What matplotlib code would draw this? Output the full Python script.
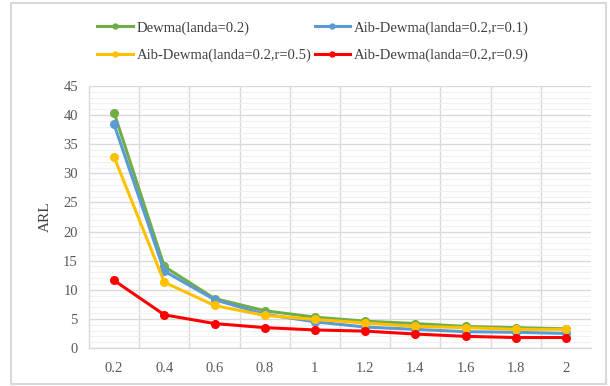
import matplotlib

matplotlib.use("Agg")
import matplotlib.pyplot as plt
from matplotlib.patches import Rectangle
from matplotlib.ticker import MultipleLocator
import numpy as np

shifts = ["0.2", "0.4", "0.6", "0.8", "1", "1.2", "1.4", "1.6", "1.8", "2"]
dewma = [40.4, 14.0, 8.5, 6.4, 5.3, 4.6, 4.2, 3.7, 3.5, 3.3]
aib_r01 = [38.4, 13.2, 8.3, 5.8, 4.5, 3.6, 3.2, 2.8, 2.7, 2.5]
aib_r05 = [32.8, 11.3, 7.3, 5.6, 4.9, 4.3, 3.7, 3.5, 3.2, 3.2]
aib_r09 = [11.6, 5.7, 4.2, 3.5, 3.1, 2.9, 2.4, 2.0, 1.8, 1.8]

series = [
    ("Dewma(landa=0.2)", dewma, "#70AD47"),
    ("Aib-Dewma(landa=0.2,r=0.1)", aib_r01, "#5B9BD5"),
    ("Aib-Dewma(landa=0.2,r=0.5)", aib_r05, "#FFC000"),
    ("Aib-Dewma(landa=0.2,r=0.9)", aib_r09, "#FF0000"),
]

plt.rcParams["font.family"] = ["Liberation Serif", "DejaVu Serif"]

fig = plt.figure(figsize=(6.1, 3.86), dpi=100)
fig.patches.append(Rectangle((11 / 610, 2 / 386), 595 / 610, 381 / 386,
                             transform=fig.transFigure, fill=False,
                             edgecolor="#D9D9D9", linewidth=1.5))

ax = fig.add_axes([89 / 610, 1 - 348 / 386, 502 / 610, 262 / 386])
x = np.arange(len(shifts))
handles = []
for label, vals, color in series:
    (h,) = ax.plot(x, vals, color=color, linewidth=2.2, marker="o",
                   markersize=5.5, label=label, zorder=3)
    handles.append(h)

ax.set_xlim(-0.5, len(shifts) - 0.5)
ax.set_ylim(0, 45)
ax.set_xticks(x)
ax.set_xticklabels(shifts)
ax.yaxis.set_major_locator(MultipleLocator(5))
ax.yaxis.set_minor_locator(MultipleLocator(1))
ax.set_xticks(x[:-1] + 0.5, minor=True)

ax.grid(axis="y", which="major", color="#D9D9D9", linewidth=1.0)
ax.grid(axis="y", which="minor", color="#F0F0F0", linewidth=0.8)
ax.grid(axis="x", which="minor", color="#D9D9D9", linewidth=1.0)
ax.set_axisbelow(True)
for side in ["top", "right"]:
    ax.spines[side].set_visible(False)
for side in ["left", "bottom"]:
    ax.spines[side].set_color("#D9D9D9")
    ax.spines[side].set_linewidth(1.0)

ax.tick_params(which="both", length=0, labelsize=10.5, labelcolor="#595959")
ax.tick_params(axis="x", pad=10)
ax.tick_params(axis="y", pad=8)
ax.set_ylabel("ARL", fontsize=11, color="#404040", labelpad=8)

# legend fills column-wise, so interleave to get row-wise order
fig.legend(handles=[handles[0], handles[2], handles[1], handles[3]],
           loc="upper left", bbox_to_anchor=(84 / 610, 1 - 8 / 386),
           ncol=2, frameon=False, fontsize=10.5, handlelength=2.45,
           handletextpad=0.27, columnspacing=0.2, labelspacing=0.98,
           markerscale=0.65, labelcolor="#404040")

fig.savefig("out.png", dpi=100)
